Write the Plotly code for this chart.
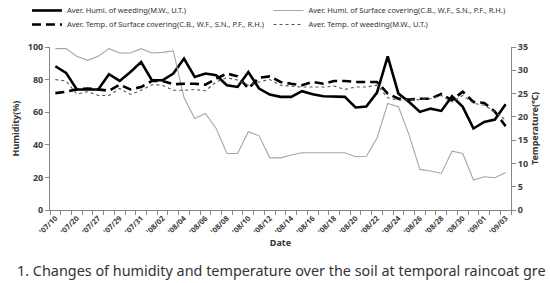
import plotly.graph_objects as go

tick_labels = ["'07/10", "'07/20", "'07/27", "'07/29", "'07/31", "'08/02", "'08/04", "'08/06",
               "'08/08", "'08/10", "'08/12", "'08/14", "'08/16", "'08/18", "'08/20", "'08/22",
               "'08/24", "'08/26", "'08/28", "'08/30", "'09/01", "'09/03"]

humi_weeding = [88.2, 84.1, 73.9, 74.0, 74.0, 83.3, 79.2, 84.7, 90.8, 79.6, 79.6, 83.7, 92.9,
                81.6, 83.7, 82.7, 76.5, 75.5, 84.7, 74.5, 70.8, 69.4, 69.4, 72.9, 71.0, 69.8,
                69.4, 69.4, 62.9, 63.5, 72.0, 94.3, 71.4, 66.3, 60.2, 62.2, 60.8, 69.8, 63.3,
                50.0, 54.0, 55.5, 64.9]
humi_cover = [99.0, 99.0, 94.3, 91.8, 94.3, 99.0, 96.3, 96.3, 99.0, 96.3, 96.7, 97.6, 69.0,
              56.1, 59.2, 50.0, 34.7, 34.7, 48.0, 45.5, 32.0, 32.0, 33.7, 35.1, 35.1, 35.1,
              35.1, 35.1, 32.7, 33.0, 44.0, 65.3, 63.3, 45.9, 24.9, 23.9, 22.4, 36.1, 34.7,
              18.4, 20.4, 19.8, 23.0]
temp_cover = [25.1, 25.4, 25.9, 26.1, 25.9, 25.6, 26.9, 25.9, 26.4, 27.7, 27.7, 27.0, 27.1,
              27.1, 26.9, 28.2, 29.3, 28.7, 26.1, 28.4, 28.7, 27.5, 27.1, 26.8, 27.5, 27.1,
              27.7, 27.7, 27.5, 27.5, 27.5, 25.0, 23.9, 23.7, 23.9, 23.9, 24.9, 23.6, 25.4,
              23.2, 23.0, 21.1, 18.0]
temp_weeding = [28.0, 27.7, 24.9, 25.4, 24.6, 24.6, 26.1, 24.8, 25.7, 26.9, 26.8, 25.7, 25.7,
                25.9, 25.6, 27.5, 28.4, 27.9, 26.8, 27.5, 28.0, 26.8, 26.6, 26.4, 26.4, 26.4,
                26.6, 25.9, 26.4, 26.4, 26.8, 24.1, 23.6, 23.6, 23.7, 23.9, 24.6, 23.2, 24.6,
                22.9, 22.5, 21.1, 19.3]

names = ["Aver. Humi. of weeding(M.W., U.T.)",
         "Aver. Humi. of Surface covering(C.B., W.F., S.N., P.F., R.H.)",
         "Aver. Temp. of Surface covering(C.B., W.F., S.N., P.F., R.H.)",
         "Aver. Temp. of weeding(M.W., U.T.)"]

caption = "1. Changes of humidity and temperature over the soil at temporal raincoat gre"

n = len(humi_weeding)
x = list(range(n))

fig = go.Figure()
fig.add_trace(go.Scatter(x=x, y=humi_weeding, name=names[0], mode="lines",
                         line=dict(color="black", width=2.6), legend="legend"))
fig.add_trace(go.Scatter(x=x, y=humi_cover, name=names[1], mode="lines",
                         line=dict(color="#a6a6a6", width=1.1), legend="legend2"))
fig.add_trace(go.Scatter(x=x, y=temp_cover, name=names[2], mode="lines", yaxis="y2",
                         line=dict(color="black", width=2.6, dash="9px,5px"), legend="legend3"))
fig.add_trace(go.Scatter(x=x, y=temp_weeding, name=names[3], mode="lines", yaxis="y2",
                         line=dict(color="#555555", width=1.1, dash="dot"), legend="legend4"))

leg_font = dict(family="Noto Sans", size=7.5, color="#333333")
def leg(xp, yp):
    return dict(x=xp, y=yp, xanchor="left", yanchor="top", bgcolor="rgba(0,0,0,0)",
                font=leg_font, itemwidth=30)

axis_font = dict(family="Noto Sans", size=9, color="#404040", weight="bold")
title_font = dict(family="Noto Sans", size=9, color="#333333", weight="bold")
fig.update_layout(
    width=550, height=283,
    margin=dict(l=50, r=39, t=47, b=73, autoexpand=False),
    paper_bgcolor="white", plot_bgcolor="white",
    showlegend=True,
    legend=leg(-0.05, 1.313),
    legend2=leg(0.474, 1.313),
    legend3=leg(-0.05, 1.227),
    legend4=leg(0.474, 1.227),
    xaxis=dict(range=[-0.5, n - 0.5], tickmode="array",
               tickvals=list(range(0, n, 2)), ticktext=tick_labels,
               tickangle=-45, ticks="", showline=True, linecolor="#868686", linewidth=1,
               showgrid=False, zeroline=False,
               tickfont=dict(family="Noto Sans", size=7.5, color="#404040", weight="bold"),
               minor=dict(tickmode="array", tickvals=[k - 0.5 for k in range(n + 1)],
                          ticks="outside", ticklen=4, tickcolor="#868686", showgrid=False),
               title=dict(text="Date", font=title_font, standoff=2)),
    yaxis=dict(range=[0, 100], dtick=20, showline=True, linecolor="#868686", linewidth=1,
               ticks="outside", ticklen=4, tickcolor="#868686", showgrid=False, zeroline=False,
               tickfont=axis_font,
               title=dict(text="Humidity(%)", font=title_font, standoff=6)),
    yaxis2=dict(range=[0, 35], dtick=5, overlaying="y", side="right", showline=True,
                linecolor="#868686", linewidth=1, ticks="outside", ticklen=4, tickcolor="#868686",
                showgrid=False, zeroline=False, tickfont=axis_font,
                title=dict(text="Temperature(℃)", font=title_font, standoff=4)),
)

fig.add_annotation(text=caption,
                   xref="paper", yref="paper", x=(15 - 50) / 461, y=(210 - 270) / 163,
                   xanchor="left", yanchor="middle", showarrow=False,
                   font=dict(family="Noto Sans", size=14.4, color="#333333"))

fig.write_html("out.html")
